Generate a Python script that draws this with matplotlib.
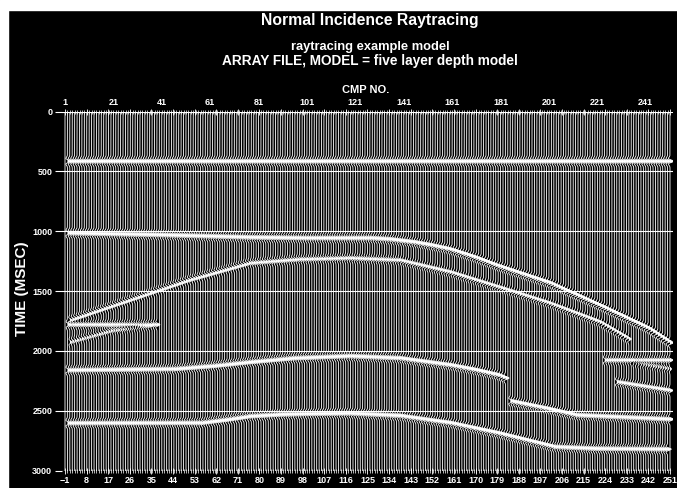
import numpy as np
import matplotlib.pyplot as plt
from matplotlib.patches import Rectangle

plt.rcParams['font.family'] = ['Liberation Sans', 'DejaVu Sans']

# section geometry
cmps = np.arange(1, 252)
times = np.arange(0, 3001, 2.0)

# reflector picks read from the section: CMP number / two-way time (ms)
r1_cmp = [2, 251]
r1_t = [415, 415]
r2_cmp = [2, 40, 77, 100, 127, 135, 145, 152, 160, 170, 180, 201, 222, 242, 251]
r2_t = [1015, 1030, 1050, 1056, 1056, 1066, 1090, 1115, 1150, 1215, 1290, 1430, 1620, 1810, 1930]
r3_cmp = [3, 52, 77, 97, 118, 139, 160, 180, 201, 222, 234]
r3_t = [1742, 1408, 1266, 1235, 1224, 1241, 1341, 1466, 1600, 1759, 1900]
r4_cmp = [2, 39]
r4_t = [1780, 1780]
r5_cmp = [3, 20, 36]
r5_t = [1925, 1830, 1790]
r6_cmp = [2, 46, 62, 77, 95, 118, 139, 160, 170, 180, 183]
r6_t = [2160, 2150, 2125, 2093, 2060, 2042, 2059, 2117, 2155, 2201, 2226]
r7_cmp = [185, 200, 212, 251]
r7_t = [2418, 2480, 2535, 2570]
r8_cmp = [2, 57, 67, 77, 90, 100, 118, 139, 160, 180, 203, 220, 250]
r8_t = [2602, 2600, 2575, 2545, 2530, 2525, 2520, 2540, 2600, 2686, 2800, 2815, 2820]
r9_cmp = [224, 251]
r9_t = [2076, 2076]
r10_cmp = [236, 251]
r10_t = [2100, 2150]
r11_cmp = [229, 251]
r11_t = [2259, 2330]

reflectors = [(r1_cmp, r1_t, 1.0), (r2_cmp, r2_t, 1.0), (r3_cmp, r3_t, 0.7),
              (r4_cmp, r4_t, 0.8), (r5_cmp, r5_t, 0.5), (r6_cmp, r6_t, 1.0),
              (r7_cmp, r7_t, 1.0), (r8_cmp, r8_t, 1.0), (r9_cmp, r9_t, 0.8),
              (r10_cmp, r10_t, 0.4), (r11_cmp, r11_t, 0.8)]

top_ticks = list(range(1, 242, 20))
bottom_labels = list(range(-1, 252, 9))
time_ticks = list(range(0, 3001, 500))


def ricker(tau, f=16.0):
    a = (np.pi * f * tau / 1000.0) ** 2
    return (1 - 2 * a) * np.exp(-a)


# build the synthetic traces from the picks
data = np.zeros((len(cmps), len(times)))
for rc, rt, amp in reflectors:
    rc = np.array(rc)
    for i, c in enumerate(cmps):
        if rc[0] <= c <= rc[-1]:
            t0 = np.interp(c, rc, rt)
            data[i] += amp * ricker(times - t0)

fig = plt.figure(figsize=(6.77, 4.88), dpi=100, facecolor='black')
fig.patches.append(Rectangle((0, 1 - 10 / 488), 1, 10 / 488, transform=fig.transFigure,
                             color='white', zorder=0))
fig.patches.append(Rectangle((0, 0), 8 / 677, 1, transform=fig.transFigure,
                             color='white', zorder=0))

ax = fig.add_axes([62 / 677, 1 - 470.7 / 488, 611 / 677, 359.2 / 488])
ax.set_facecolor('black')

gain = 1.5
for i, c in enumerate(cmps):
    x = c + gain * data[i]
    ax.plot(x, times, color='white', lw=0.6)
    ax.fill_betweenx(times, c, x, where=data[i] > 0, color='white', lw=0)

for tt in time_ticks:
    ax.axhline(tt, color='white', lw=0.8)

ax.set_xlim(-0.24, 252.24)
ax.set_ylim(3000, 0)
for s in ax.spines.values():
    s.set_visible(False)

ax.set_yticks(time_ticks)
ax.tick_params(axis='y', colors='white', length=5, width=0.8, labelsize=6.5, pad=2)
for lab in ax.get_yticklabels():
    lab.set_fontweight('bold')

ax.set_xticks(np.linspace(1, 251, len(bottom_labels)))
ax.set_xticklabels(['\u2212' + str(-v) if v < 0 else str(v) for v in bottom_labels],
                   fontsize=6.5, fontweight='bold', color='white')
ax.set_xticks(cmps, minor=True)
ax.tick_params(axis='x', which='both', colors='white', direction='inout',
               top=True, bottom=True, length=4, width=0.6, pad=2)
ax.tick_params(axis='x', which='minor', length=3, width=0.5)

sec = ax.secondary_xaxis('top')
sec.set_xticks(top_ticks)
sec.set_xticklabels([str(v) for v in top_ticks], fontsize=6.5, fontweight='bold', color='white')
sec.tick_params(axis='x', length=0, pad=3)
for s in sec.spines.values():
    s.set_visible(False)

cx = 370 / 677
fig.text(cx, 1 - 20 / 488, 'Normal Incidence Raytracing', color='white', fontsize=11.3,
         fontweight='bold', ha='center', va='center')
fig.text(cx, 1 - 47 / 488, 'raytracing example model', color='white', fontsize=9.3,
         fontweight='bold', ha='center', va='center')
fig.text(cx, 1 - 61 / 488, 'ARRAY FILE, MODEL = five layer depth model', color='white',
         fontsize=9.8, fontweight='bold', ha='center', va='center')
fig.text(366 / 677, 1 - 90 / 488, 'CMP NO.', color='white', fontsize=8,
         fontweight='bold', ha='center', va='center')
fig.text(22 / 677, 1 - 289 / 488, 'TIME (MSEC)', color='white', fontsize=11,
         fontweight='bold', ha='center', va='center', rotation=90)

fig.savefig('out.png', dpi=100, facecolor=fig.get_facecolor())
